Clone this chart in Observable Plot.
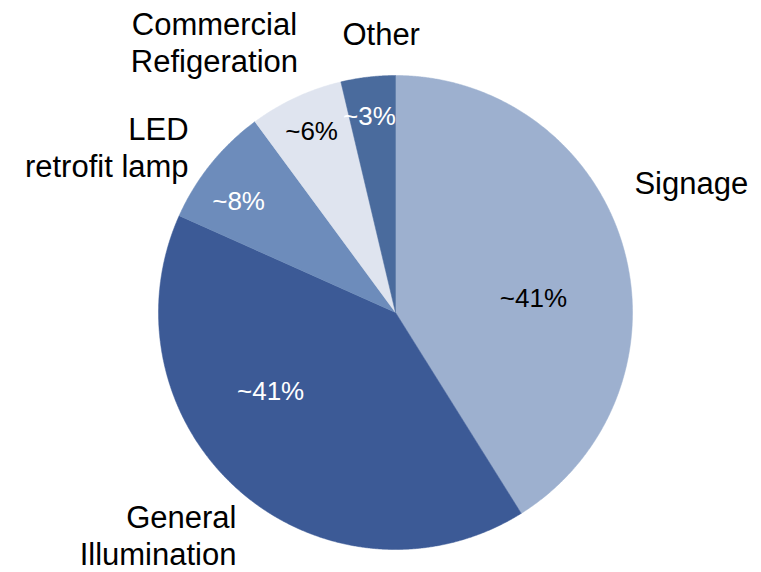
<!DOCTYPE html>
<html>
<head>
<meta charset="utf-8">
<script src="https://cdn.jsdelivr.net/npm/d3@7"></script>
<script src="https://cdn.jsdelivr.net/npm/@observablehq/plot@0.6"></script>
<style>
  html, body { margin: 0; padding: 0; background: #fff; }
  svg { display: block; }
</style>
</head>
<body>
<div id="chart"></div>
<script>
// Data, clockwise from 12 o'clock
const categories = ["Signage", "General Illumination", "LED retrofit lamp", "Commercial Refigeration", "Other"];
const shares = [41.1, 40.6, 8.2, 6.4, 3.7];
const pctLabels = ["~41%", "~41%", "~8%", "~6%", "~3%"];
const catLabels = ["Signage", "General\nIllumination", "LED\nretrofit lamp", "Commercial\nRefigeration", "Other"];
const colors = ["#9db0cf", "#3c5a96", "#6d8cbb", "#dfe4ef", "#4a6b9d"];
const pctColors = ["#000", "#fff", "#fff", "#000", "#fff"];

// Layout (unit circle coordinates: radius 1)
const pctPos = [[0.582, 0.059], [-0.527, -0.333], [-0.662, 0.468], [-0.354, 0.764], [-0.110, 0.827]];
const catPos = [[1.008, 0.549], [-0.671, -0.937], [-0.873, 0.700], [-0.764, 1.143], [-0.224, 1.177]];
const catAnchor = ["start", "end", "end", "middle", "start"];

const arcs = d3.pie().sort(null).value(d => d)(shares);
const poly = [];
arcs.forEach((a, i) => {
  const n = Math.max(2, Math.ceil((a.endAngle - a.startAngle) / 0.005));
  poly.push({c: categories[i], x: 0, y: 0});
  for (let k = 0; k <= n; k++) {
    const t = a.startAngle + (a.endAngle - a.startAngle) * k / n;
    poly.push({c: categories[i], x: Math.sin(t), y: Math.cos(t)});
  }
  poly.push({c: categories[i], x: 0, y: 0});
});

const pctData = categories.map((c, i) => ({c, t: pctLabels[i], x: pctPos[i][0], y: pctPos[i][1], col: pctColors[i]}));
const catData = categories.map((c, i) => ({c, t: catLabels[i], x: catPos[i][0], y: catPos[i][1], a: catAnchor[i]}));

const chart = Plot.plot({
  width: 761,
  height: 572,
  marginLeft: 158,
  marginRight: 129,
  marginTop: 75,
  marginBottom: 23,
  x: {domain: [-1, 1], axis: null},
  y: {domain: [-1, 1], axis: null},
  color: {domain: categories, range: colors},
  style: {fontFamily: "'Liberation Sans', Arial, sans-serif", background: "#fff", overflow: "visible"},
  marks: [
    Plot.line(poly, {x: "x", y: "y", z: "c", fill: "c", stroke: "c", strokeWidth: 0.5, curve: "linear"}),
    Plot.text(pctData, {x: "x", y: "y", text: "t", fill: "col", fontSize: 26, textAnchor: "middle"}),
    ...["start", "middle", "end"].map(anchor =>
      Plot.text(catData.filter(d => d.a === anchor), {x: "x", y: "y", text: "t", fill: "#000", fontSize: 31, textAnchor: anchor, lineAnchor: "middle", lineHeight: 1.18})
    )
  ]
});
document.getElementById("chart").appendChild(chart);
</script>
</body>
</html>
